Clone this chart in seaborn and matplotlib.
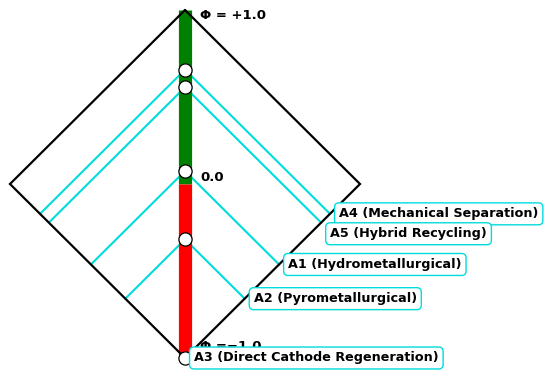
import matplotlib
matplotlib.use("Agg")
import matplotlib.pyplot as plt
import seaborn as sns
import pandas as pd

sns.set_style("white")
plt.rcParams['font.family'] = ['DejaVu Sans']
plt.rcParams['text.color'] = 'black'

# data
alternatives = ["A4 (Mechanical Separation)", "A5 (Hybrid Recycling)",
                "A1 (Hydrometallurgical)", "A2 (Pyrometallurgical)",
                "A3 (Direct Cathode Regeneration)"]
phi = [0.657, 0.556, 0.075, -0.318, -1.0]
label_dy = [0, -8, 0, 0, 0]  # label nudge in points
scale_labels = ["Φ = +1.0", "0.0", "Φ =−1.0"]
scale_values = [1.0, 0.0, -1.0]

CYAN = "#00dcdc"

fig = plt.figure(figsize=(5.5, 3.81), dpi=100)
ax = fig.add_axes([0, 0, 1, 1])

# diamond
dx = [0, 1, 0, -1, 0]
dy = [1, 0, -1, 0, 1]
ax.plot(dx, dy, color="black", lw=1.6, zorder=4, solid_joinstyle="miter")

# vertical bar
ax.plot([0, 0], [0, 1], color="green", lw=9.5, solid_capstyle="butt", zorder=2)
ax.plot([0, 0], [-0.985, 0], color="red", lw=9.5, solid_capstyle="butt", zorder=2)

# cone lines
for p in phi:
    t = (1 + p) / 2
    ax.plot([-t, 0, t], [p - t, p, p - t], color=CYAN, lw=1.5, zorder=1)

df = pd.DataFrame({"x": [0.0] * len(phi), "phi": phi, "name": alternatives})
sns.scatterplot(data=df, x="x", y="phi", ax=ax, s=90, color="white",
                edgecolor="black", linewidth=0.9, zorder=5, legend=False)
ax.set_xlim(-1.0571, 2.0857)
ax.set_ylim(-1.1322, 1.0575)
ax.axis("off")

for p, name, ddy in zip(phi, alternatives, label_dy):
    t = (1 + p) / 2
    ax.annotate(name, xy=(t, p - t), xytext=(6.5, ddy), textcoords="offset points",
                ha="left", va="center", fontsize=9.2, fontweight="bold", zorder=7,
                color="black",
                bbox=dict(boxstyle="round,pad=0.35", fc="white", ec=CYAN, lw=1.0))

offsets = {1.0: -3.6, 0.0: 5.0, -1.0: 8.0}
for v, s in zip(scale_values, scale_labels):
    ax.annotate(s, xy=(0, v), xytext=(11, offsets[v]), textcoords="offset points",
                ha="left", va="center", fontsize=9.5, fontweight="bold", zorder=6,
                color="black")

fig.savefig("out.png", dpi=100)
